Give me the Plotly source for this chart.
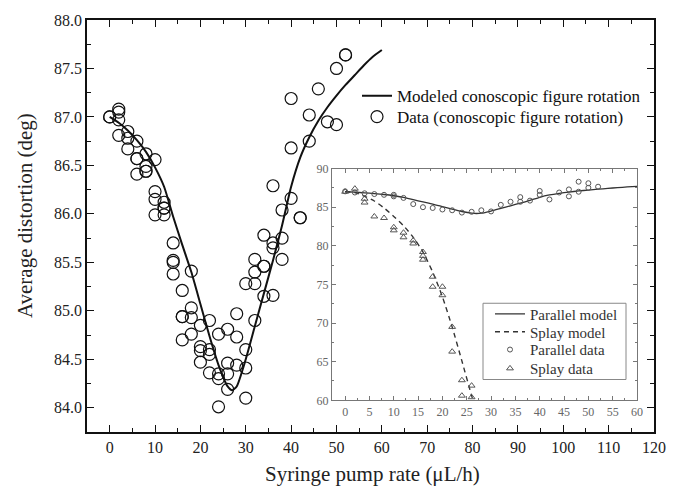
import plotly.graph_objects as go

# ---------------- main data ----------------
data_x = [0, 0,
          2, 2, 2, 2,
          4, 4, 4,
          6, 6, 6, 6,
          8, 8, 8, 8,
          10, 10, 10, 10,
          12, 12, 12, 12,
          14, 14, 14, 14,
          16, 16, 16, 16,
          18, 18, 18, 18,
          20, 20, 20, 20,
          22, 22, 22, 22,
          24, 24, 24, 24,
          26, 26, 26, 26,
          28, 28, 28,
          30, 30, 30, 30,
          32, 32, 32, 32,
          34, 34, 34, 34,
          36, 36, 36, 36,
          38, 38, 38,
          40, 40, 40,
          42, 42,
          44, 44,
          46, 48,
          50, 50,
          52, 52]
data_y = [87.00, 87.00,
          87.08, 87.05, 86.97, 86.81,
          86.85, 86.78, 86.67,
          86.75, 86.57, 86.57, 86.41,
          86.62, 86.49, 86.44, 86.44,
          86.56, 86.23, 86.15, 85.99,
          86.12, 86.06, 86.06, 85.99,
          85.70, 85.52, 85.50, 85.38,
          85.21, 84.94, 84.94, 84.70,
          85.41, 85.03, 84.93, 84.76,
          84.85, 84.63, 84.59, 84.47,
          84.90, 84.60, 84.55, 84.36,
          84.76, 84.35, 84.30, 84.01,
          84.81, 84.46, 84.35, 84.19,
          84.97, 84.73, 84.44,
          85.28, 84.60, 84.41, 84.10,
          85.53, 85.40, 85.28, 84.90,
          85.78, 85.46, 85.46, 85.15,
          86.29, 85.70, 85.65, 85.16,
          86.04, 85.75, 85.53,
          87.19, 86.68, 86.16,
          85.96, 85.96,
          87.02, 86.75,
          87.29, 86.95,
          87.50, 86.92,
          87.64, 87.64]

model_x = [0, 2, 4, 6, 8, 10, 12, 14, 16, 18, 20, 22, 24, 26, 27, 28, 30,
           32, 34, 36, 38, 40, 42, 44, 46, 48, 50, 52, 54, 56, 58, 60]
model_y = [87.00, 86.94, 86.86, 86.76, 86.64, 86.48, 86.28, 85.97, 85.68,
           85.40, 85.07, 84.74, 84.44, 84.22, 84.18, 84.22, 84.50,
           84.84, 85.18, 85.52, 85.88, 86.28, 86.58, 86.79, 86.96, 87.10,
           87.22, 87.33, 87.43, 87.53, 87.62, 87.69]

# ---------------- inset data ----------------
par_x = [0, 2, 4, 6, 8, 10, 10, 12, 14, 16, 18, 20, 22, 24, 26, 28, 30, 32,
         34, 36, 36, 38, 40, 40, 42, 44, 46, 46, 48, 48, 50, 50, 52]
par_y = [87.05, 86.9, 86.8, 86.7, 86.6, 86.6, 86.4, 86.2, 85.4, 85.0, 84.9,
         84.7, 84.6, 84.3, 84.4, 84.6, 84.45, 85.3, 85.7, 86.3, 85.7, 85.85,
         87.1, 86.6, 86.0, 86.9, 87.3, 86.4, 88.3, 87.0, 88.1, 87.5, 87.65]

splay_x = [0, 2, 4, 4, 6, 8, 10, 10, 12, 12, 14, 14, 16, 16, 16,
           18, 18, 20, 20, 22, 22, 24, 24, 26, 26]
splay_y = [87.0, 87.4, 86.1, 85.6, 83.8, 83.6, 82.4, 82.0, 81.7, 81.1,
           80.7, 80.3, 79.2, 78.7, 78.2, 76.0, 74.7, 74.7, 73.6, 69.5,
           66.3, 62.6, 60.6, 61.9, 60.4]

splay_model_x = [0, 2, 4, 6, 8, 10, 12, 14, 16, 18, 20, 22, 24, 26, 26.3]
splay_model_y = [87.0, 86.9, 86.4, 85.8, 84.9, 83.8, 82.6, 81.1, 79.2,
                 76.6, 73.4, 69.5, 65.1, 60.6, 60.0]

FONT = "Liberation Serif"

W, H = 689, 489
L, R, T, B = 87, 35, 16, 57
pw, ph = W - L - R, H - T - B


def px_x(p):
    return (p - L) / pw


def px_y(p):
    return (H - B - p) / ph


fig = go.Figure()

fig.add_trace(go.Scatter(
    x=model_x, y=model_y, mode="lines",
    line=dict(color="#111111", width=2, shape="spline", smoothing=0.6),
    name="Modeled conoscopic figure rotation", legend="legend"))
fig.add_trace(go.Scatter(
    x=data_x, y=data_y, mode="markers",
    marker=dict(symbol="circle-open", size=12, color="#111111",
                line=dict(width=1.2)),
    name="Data (conoscopic figure rotation)", legend="legend3"))

# inset traces
fig.add_trace(go.Scatter(
    x=model_x, y=model_y, mode="lines", xaxis="x2", yaxis="y2",
    line=dict(color="#333333", width=1.3, shape="spline", smoothing=0.6),
    name="Parallel model", legend="legend2"))
fig.add_trace(go.Scatter(
    x=splay_model_x, y=splay_model_y, mode="lines", xaxis="x2", yaxis="y2",
    line=dict(color="#333333", width=1.4, dash="5px,4px", shape="spline",
              smoothing=0.6),
    name="Splay model", legend="legend4"))
fig.add_trace(go.Scatter(
    x=par_x, y=par_y, mode="markers", xaxis="x2", yaxis="y2",
    marker=dict(symbol="circle-open", size=5, color="#555555",
                line=dict(width=1)),
    name="Parallel data", legend="legend5"))
fig.add_trace(go.Scatter(
    x=splay_x, y=splay_y, mode="markers", xaxis="x2", yaxis="y2",
    marker=dict(symbol="triangle-up-open", size=6, color="#555555",
                line=dict(width=1)),
    name="Splay data", legend="legend6"))

main_axis = dict(showline=True, linecolor="#111111", linewidth=1.8,
                 mirror="allticks", ticks="inside", ticklen=7, tickwidth=1.4,
                 tickcolor="#111111", showgrid=False, zeroline=False,
                 tickfont=dict(family=FONT, size=16, color="#222222"))

inset_axis = dict(showline=True, linecolor="#777777", linewidth=1,
                  mirror="allticks", ticks="inside", ticklen=4, tickwidth=1,
                  tickcolor="#777777", showgrid=False, zeroline=False,
                  tickfont=dict(family=FONT, size=12, color="#666666"))


def one_legend(xpix, ypix, size, color):
    return dict(x=px_x(xpix), y=px_y(ypix), xanchor="left", yanchor="middle",
                bgcolor="rgba(0,0,0,0)", borderwidth=0,
                font=dict(family=FONT, size=size, color=color),
                tracegroupgap=0)


fig.update_layout(
    width=W, height=H,
    margin=dict(l=L, r=R, t=T, b=B),
    paper_bgcolor="white", plot_bgcolor="white",
    font=dict(family=FONT, color="#111111"),
    xaxis=dict(main_axis, range=[-5, 120], dtick=10, tick0=0,
               minor=dict(dtick=5, ticks="inside", ticklen=4, tickwidth=1.2,
                          tickcolor="#111111"),
               domain=[0, 1]),
    yaxis=dict(main_axis, range=[83.75, 88.0], dtick=0.5, tick0=84,
               tickformat=".1f",
               minor=dict(dtick=0.25, ticks="inside", ticklen=4,
                          tickwidth=1.2, tickcolor="#111111"),
               domain=[0, 1]),
    xaxis2=dict(inset_axis, range=[-2.7, 60], dtick=5, tick0=0,
                minor=dict(dtick=2.5, ticks="inside", ticklen=2,
                           tickcolor="#777777"),
                domain=[px_x(332), px_x(637)], anchor="y2"),
    yaxis2=dict(inset_axis, range=[60, 90], dtick=5, tick0=60,
                minor=dict(dtick=2.5, ticks="inside", ticklen=2,
                           tickcolor="#777777"),
                domain=[px_y(400), px_y(166)], anchor="x2"),
    legend=one_legend(357, 93, 17, "#111111"),
    legend3=one_legend(357, 114, 17, "#111111"),
    legend2=one_legend(490, 313, 15, "#333333"),
    legend4=one_legend(490, 331, 15, "#333333"),
    legend5=one_legend(490, 349, 15, "#333333"),
    legend6=one_legend(490, 368, 15, "#333333"),
    showlegend=True,
    shapes=[dict(type="rect", xref="paper", yref="paper",
                 x0=px_x(483), x1=px_x(626), y0=px_y(379), y1=px_y(302),
                 line=dict(color="#888888", width=1), fillcolor="white",
                 layer="above")],
    annotations=[
        dict(text="Average distortion (deg)", xref="paper", yref="paper",
             x=px_x(25), y=px_y(214), showarrow=False, textangle=-90,
             font=dict(family=FONT, size=21, color="#222222"),
             xanchor="center", yanchor="middle"),
        dict(text="Syringe pump rate (\u03bcL/h)", xref="paper",
             yref="paper", x=px_x(372), y=px_y(474), showarrow=False,
             font=dict(family=FONT, size=21, color="#222222"),
             xanchor="center", yanchor="middle"),
    ],
)

fig.write_html("out.html")
